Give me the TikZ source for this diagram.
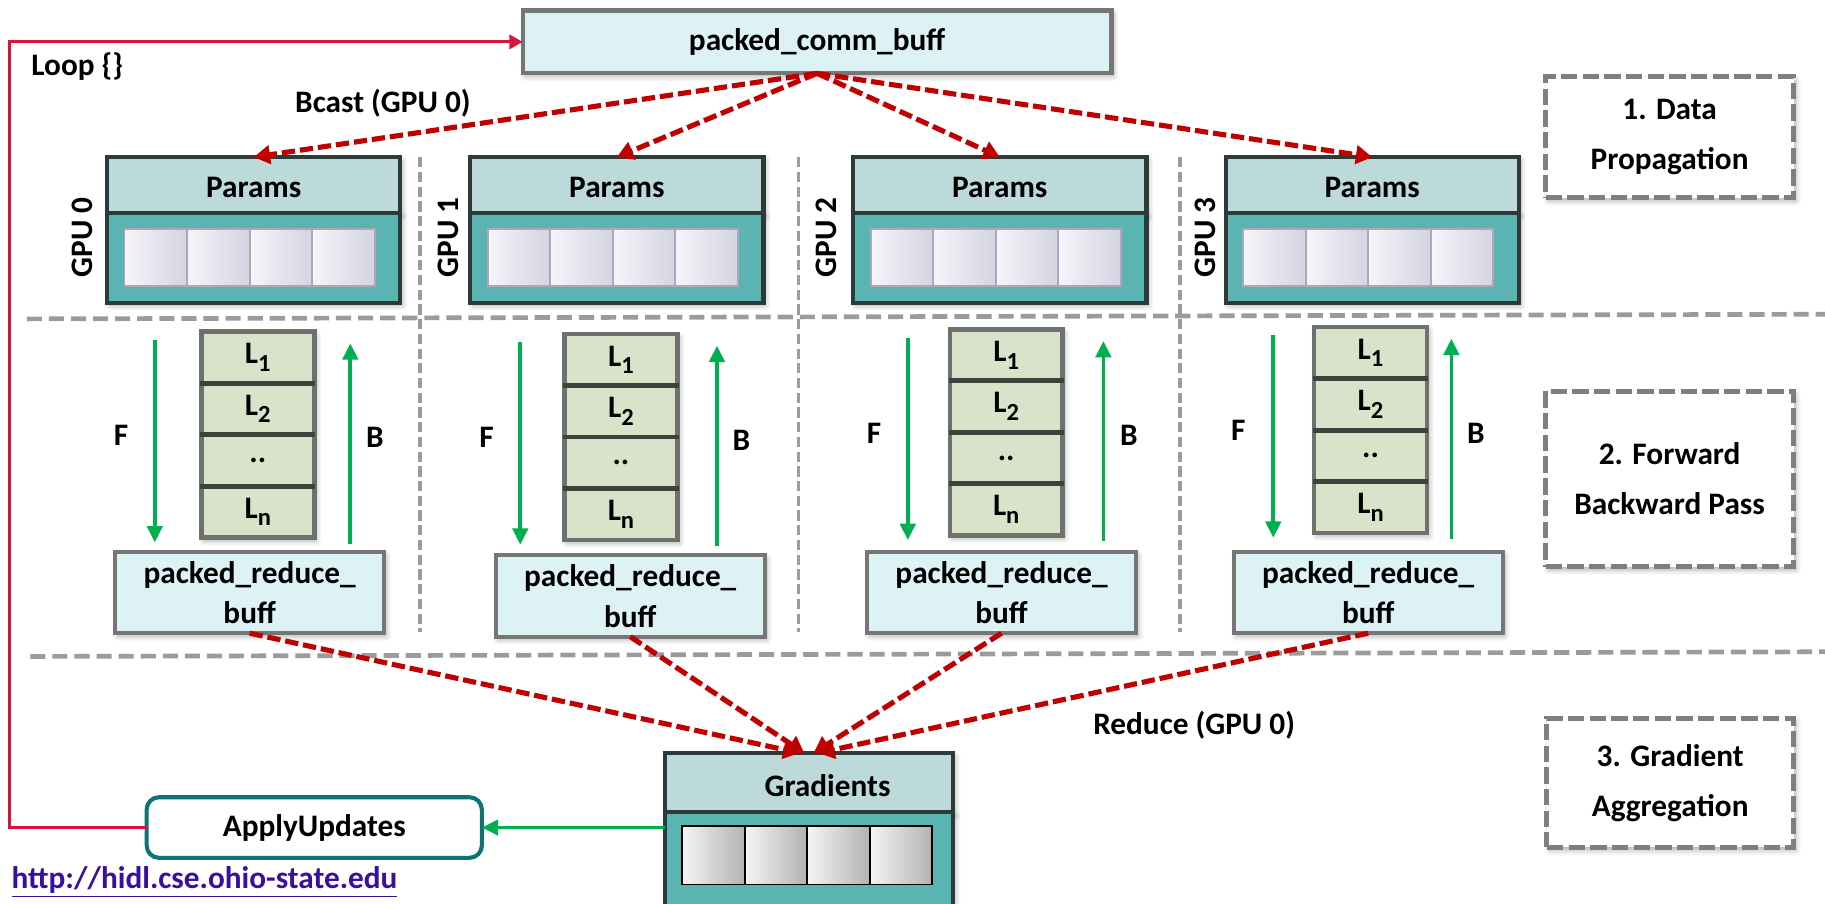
\documentclass[tikz,border=0pt]{standalone}
\usepackage{fontspec}
\setmainfont{Carlito}
\usetikzlibrary{arrows.meta,fit,calc,shadows.blur}

\definecolor{cyanfill}{HTML}{DDF2F4}
\definecolor{buffedge}{HTML}{767676}
\definecolor{paramtop}{HTML}{BCDAD9}
\definecolor{parambot}{HTML}{5AB4B2}
\definecolor{gpuedge}{HTML}{2C3A3A}
\definecolor{cellL}{HTML}{F5F5F9}
\definecolor{cellR}{HTML}{D4D3E2}
\definecolor{celledge}{HTML}{ABA8BC}
\definecolor{layerfill}{HTML}{D8E3CA}
\definecolor{layeredge}{HTML}{6E726E}
\definecolor{layerdiv}{HTML}{3C423C}
\definecolor{fbgreen}{HTML}{00B050}
\definecolor{commred}{HTML}{C00000}
\definecolor{loopred}{HTML}{D9143C}
\definecolor{sepgray}{HTML}{9B9B9B}
\definecolor{phasegray}{HTML}{7F7F7F}
\definecolor{applyedge}{HTML}{0E7371}
\definecolor{urlblue}{HTML}{3A0E9E}

\newcommand\Lsub[1]{L\raisebox{-0.5ex}{\fontsize{12}{12}\selectfont #1}}
\newcommand\layerdots{..}

\tikzset{
  softshadow/.style={blur shadow={shadow xshift=1.2pt, shadow yshift=-1.6pt,
      shadow blur radius=2.5pt, shadow blur steps=6, shadow opacity=30}},
  buff/.style={draw=buffedge, line width=2pt, fill=cyanfill, softshadow},
  ptop/.style={draw=gpuedge, line width=2pt, fill=paramtop, softshadow},
  pbot/.style={draw=gpuedge, line width=2pt, fill=parambot, softshadow},
  pcell/.style={draw=celledge, line width=0.9pt, left color=cellL, right color=cellR},
  gcell/.style={draw=black, line width=0.9pt, left color=white!96!black, right color=black!30},
  stack/.style={draw=layeredge, line width=2.2pt, fill=layerfill, softshadow},
  stackdiv/.style={draw=layerdiv, line width=2.4pt},
  fbarrow/.style={draw=fbgreen, line width=1.8pt, -{Triangle[length=8pt,width=7.5pt]}},
  comm/.style={draw=commred, line width=2.5pt, dash pattern=on 6.5pt off 2.4pt,
      -{Triangle[length=8pt,width=9pt]}},
  loopline/.style={draw=loopred, line width=1.5pt, -{Triangle[length=6.5pt,width=7pt]}},
  hsep/.style={draw=sepgray, line width=2.3pt, dash pattern=on 7.4pt off 3.4pt},
  vsep/.style={draw=sepgray, line width=1.7pt, dash pattern=on 5pt off 2.2pt},
  phase/.style={draw=phasegray, line width=2.5pt, dash pattern=on 8pt off 2.6pt,
      fill=white, softshadow},
  phasetext/.style={align=center, font=\bfseries\fontsize{15.3}{24.4}\selectfont},
  bufftext/.style={align=center, font=\bfseries\fontsize{15.3}{19.8}\selectfont},
  applybox/.style={draw=applyedge, line width=2pt, fill=white, rounded corners=6pt},
}

\begin{document}
\begin{tikzpicture}[x=0.02cm,y=-0.02cm,
  font=\bfseries\fontsize{15.3}{18}\selectfont,
  every node/.style={inner sep=0pt, outer sep=0pt}]
\useasboundingbox (0,0) rectangle (1568,776);
\clip (0,0) rectangle (1568,776);

% separators between phases and between GPUs
\draw[hsep] (23,274) -- (1568,270);
\draw[hsep] (26,564) -- (1568,560);
\foreach \sx in {361,686,1014} \draw[vsep] (\sx,135) -- (\sx,543);

% phase captions
\node[phase, fit={(1328,66) (1541,170)}] (ph1) {};
\node[phasetext] (ph1t) at (ph1.center) {1. Data\\Propagation};
\node[phase, fit={(1328,336) (1541,487)}] (ph2) {};
\node[phasetext] (ph2t) at (ph2.center) {2. Forward\\Backward Pass};
\node[phase, fit={(1329,617) (1541,728)}] (ph3) {};
\node[phasetext] (ph3t) at (ph3.center) {3. Gradient\\Aggregation};

% broadcast buffer and labels
\node[buff, fit={(449,9) (955,63)}] (pcb) {};
\node (pcbt) at (pcb.center) {packed\_comm\_buff};
\node[anchor=west] (loop) at (27,57) {Loop \{\}};
\node (bcast) at (329,89) {Bcast (GPU 0)};
\node (reduce) at (1026,623) {Reduce (GPU 0)};

% one column per GPU
\foreach \i/\gx/\labx/\lx/\ly/\fx/\bx/\flx/\blx/\rx/\ry in {
   0/92/71/173/285/133/301/104/322/99/474,
   1/404/385/485/287/447/616/418/637/426/477,
   2/733/710/816/283/780/948/751/970/745/474,
   3/1053/1036/1129/281/1094/1247/1064/1268/1060/474}{
  % parameter block
  \node[ptop, fit={({\gx},135) ({\gx+252},183)}] (p\i) {};
  \node (pt\i) at ([yshift=-1pt]p\i.center) {Params};
  \node[pbot, fit={({\gx},183) ({\gx+252},260)}] (m\i) {};
  \foreach \j in {0,1,2,3}
    \node[pcell, fit={({\gx+15+53.75*\j},197) ({\gx+15+53.75*(\j+1)},246)}] (c\i\j) {};
  \node[rotate=90] (g\i) at (\labx,204) {GPU \i};
  % layer stack
  \node[stack, fit={({\lx},{\ly}) ({\lx+97},{\ly+177})}] (s\i) {};
  \foreach \j/\ltxt in {0/\Lsub{1},1/\Lsub{2},2/\layerdots,3/\Lsub{n}}
    \node (l\i\j) at ({\lx+48.5},{\ly+44.25*(\j+0.5)}) {\ltxt};
  \foreach \k in {1,2,3}
    \draw[stackdiv] ({\lx-1},{\ly+44.25*\k}) -- ({\lx+98},{\ly+44.25*\k});
  % forward and backward passes
  \coordinate (ft\i) at (\fx,{\ly+7});
  \coordinate (fb\i) at (\fx,{\ly+181});
  \coordinate (bb\i) at (\bx,{\ly+182});
  \coordinate (bt\i) at (\bx,{\ly+10});
  \draw[fbarrow] (ft\i) -- (fb\i);
  \draw[fbarrow] (bb\i) -- (bt\i);
  \node (F\i) at (\flx,{\ly+89}) {F};
  \node (B\i) at (\blx,{\ly+91}) {B};
  % reduce buffer
  \node[buff, fit={({\rx},{\ry}) ({\rx+231},{\ry+70})}] (r\i) {};
  \node[bufftext] (rt\i) at (r\i.center) {packed\_reduce\_\\buff};
  % broadcast
  \draw[comm] (pcb.south) -- (p\i.north);
}

% aggregated gradients
\node[ptop, fit={(571,647) (819,698)}] (gt) {};
\node (gtext) at (711,675) {Gradients};
\node[pbot, fit={(571,698) (819,795)}] (gb) {};
\foreach \j in {0,1,2,3}
  \node[gcell, fit={({586+53.75*\j},710) ({586+53.75*(\j+1)},760)}] (gc\j) {};

% reduction to GPU 0
\foreach \i/\o in {0/-8,1/-4,2/4,3/8}
  \draw[comm] (r\i.south) -- ($(gt.north)+(\o,0)$);

% update step and loop back
\node[applybox, fit={(126,685) (414,737)}] (apply) {};
\node (applyt) at (apply.center) {ApplyUpdates};
\draw[fbarrow] (apply.east -| gb.west) -- (apply.east);
\coordinate (lx) at (8,0);
\draw[loopline] (apply.west) -- (apply.west -| lx) |- (pcb.west);

\node[anchor=west, text=urlblue] (url) at (10,758) {\underline{http://hidl.cse.ohio-state.edu}};
\end{tikzpicture}
\end{document}
